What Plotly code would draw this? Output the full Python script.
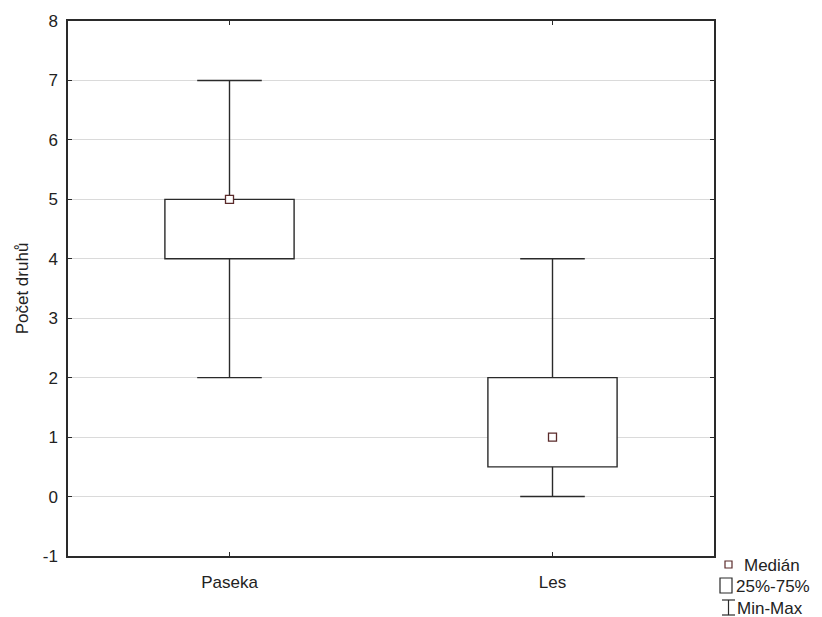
import plotly.graph_objects as go

# Summary statistics per habitat
categories = ["Paseka", "Les"]
medians = [5, 1]
q1 = [4, 0.5]
q3 = [5, 2]
mins = [2, 0]
maxs = [7, 4]

y_ticks = [-1, 0, 1, 2, 3, 4, 5, 6, 7, 8]
y_tick_labels = ["-1", "0", "1", "2", "3", "4", "5", "6", "7", "8"]

W, H = 822, 617
L, R, T, B = 68, 108, 21, 61
FONT = "Liberation Sans, Arial, sans-serif"
LINE = "#2a2a2a"
MED = "#5a2a2a"
BOX_W = 0.4
CAP_W = 0.2

fig = go.Figure()
xs = list(range(len(categories)))

# 25%-75% boxes
fig.add_trace(go.Bar(
    x=xs, y=[b - a for a, b in zip(q1, q3)], base=q1, width=BOX_W,
    marker=dict(color="white", line=dict(color=LINE, width=1.4)),
    showlegend=False, hoverinfo="skip"))

# Min-Max whiskers with caps
for i in xs:
    wx = [i, i, None, i - CAP_W / 2, i + CAP_W / 2, None,
          i, i, None, i - CAP_W / 2, i + CAP_W / 2]
    wy = [q3[i], maxs[i], None, maxs[i], maxs[i], None,
          q1[i], mins[i], None, mins[i], mins[i]]
    fig.add_trace(go.Scatter(x=wx, y=wy, mode="lines",
                             line=dict(color=LINE, width=1.4),
                             showlegend=False, hoverinfo="skip"))

# Medians
fig.add_trace(go.Scatter(
    x=xs, y=medians, mode="markers",
    marker=dict(symbol="square", size=8, color="white",
                line=dict(color=MED, width=1.3)),
    showlegend=False))

axis_common = dict(showline=True, linecolor=LINE, linewidth=1.5, mirror="ticks",
                   ticks="inside", ticklen=4, tickcolor=LINE, tickwidth=1,
                   tickfont=dict(family=FONT, size=17, color="#222"), zeroline=False)

fig.update_xaxes(range=[-0.5, 1.5], tickvals=xs, ticktext=categories,
                 showgrid=False, ticklabelstandoff=10, **axis_common)
fig.update_yaxes(range=[-1, 8], tickvals=y_ticks, ticktext=y_tick_labels, showgrid=True,
                 gridcolor="#dadada", gridwidth=1, ticklabelstandoff=5,
                 title=dict(text="Počet druhů", font=dict(family=FONT, size=17, color="#222"),
                            standoff=10),
                 **axis_common)

# Legend drawn in pixel positions converted to paper coordinates
pw, ph = W - L - R, H - T - B
def px(x):
    return (x - L) / pw
def py(y):
    return (H - B - y) / ph

shapes = [
    dict(type="rect", xref="paper", yref="paper", x0=px(725), x1=px(732), y0=py(568), y1=py(561),
         line=dict(color=MED, width=1.2), fillcolor="white"),
    dict(type="rect", xref="paper", yref="paper", x0=px(720), x1=px(732), y0=py(593), y1=py(578),
         line=dict(color=LINE, width=1.2), fillcolor="white"),
    dict(type="line", xref="paper", yref="paper", x0=px(722), x1=px(735), y0=py(600), y1=py(600),
         line=dict(color=LINE, width=1.2)),
    dict(type="line", xref="paper", yref="paper", x0=px(728.5), x1=px(728.5), y0=py(600), y1=py(615),
         line=dict(color=LINE, width=1.2)),
    dict(type="line", xref="paper", yref="paper", x0=px(722), x1=px(735), y0=py(615), y1=py(615),
         line=dict(color=LINE, width=1.2)),
]
legend_labels = [("Medián", 742, 565), ("25%-75%", 734, 586), ("Min-Max", 735, 608)]
annotations = [dict(text=t, xref="paper", yref="paper", x=px(x), y=py(y), xanchor="left",
                    yanchor="middle", showarrow=False,
                    font=dict(family=FONT, size=17, color="#222"))
               for t, x, y in legend_labels]

fig.update_layout(width=W, height=H, margin=dict(l=L, r=R, t=T, b=B),
                  plot_bgcolor="white", paper_bgcolor="white",
                  shapes=shapes, annotations=annotations, barmode="overlay",
                  showlegend=False)

fig.write_html("out.html")
